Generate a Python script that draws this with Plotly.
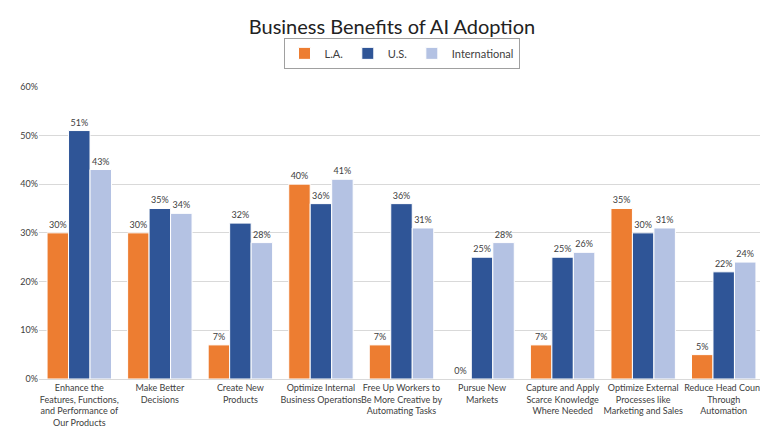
import plotly.graph_objects as go

categories = ['Enhance the<br>Features, Functions,<br>and Performance of<br>Our Products',
              'Make Better<br>Decisions',
              'Create New<br>Products',
              'Optimize Internal<br>Business Operations',
              'Free Up Workers to<br>Be More Creative by<br>Automating Tasks',
              'Pursue New<br>Markets',
              'Capture and Apply<br>Scarce Knowledge<br>Where Needed',
              'Optimize External<br>Processes like<br>Marketing and Sales',
              'Reduce Head Count<br>Through<br>Automation']
la = [30, 30, 7, 40, 7, 0, 7, 35, 5]
us = [51, 35, 32, 36, 36, 25, 25, 30, 22]
intl = [43, 34, 28, 41, 31, 28, 26, 31, 24]

series = [('L.A.', la, '#ED7D31'), ('U.S.', us, '#2F5597'), ('International', intl, '#B4C2E3')]

fig = go.Figure()
for name, vals, color in series:
    fig.add_bar(x=categories, y=vals, name=name, marker_color=color,
                marker_line=dict(color='white', width=1),
                text=[f'{v}%' for v in vals], textposition='outside',
                textfont=dict(size=9, color='#404040'), cliponaxis=False)

fig.update_layout(
    width=768, height=432,
    font=dict(family='Lato, Liberation Sans, sans-serif', color='#404040'),
    title=dict(text='Business Benefits of AI Adoption', x=0.5, y=0.955, xanchor='center',
               yanchor='middle', font=dict(size=20, color='#222222')),
    paper_bgcolor='white', plot_bgcolor='white',
    barmode='group', bargap=0.2, bargroupgap=0,
    margin=dict(l=30, r=12, t=63, b=59),
    legend=dict(orientation='h', x=0.5, xanchor='center', yref='container', y=0.895,
                yanchor='middle', bordercolor='#A0A0A0', borderwidth=1,
                font=dict(size=11), itemwidth=30, tracegroupgap=0),
    xaxis=dict(tickfont=dict(size=9), showline=True, linecolor='#D9D9D9', tickangle=0),
    yaxis=dict(range=[0, 60], dtick=10, ticksuffix='%', gridcolor='#D9D9D9',
               tickfont=dict(size=9), zeroline=False),
)

fig.write_html('out.html')
